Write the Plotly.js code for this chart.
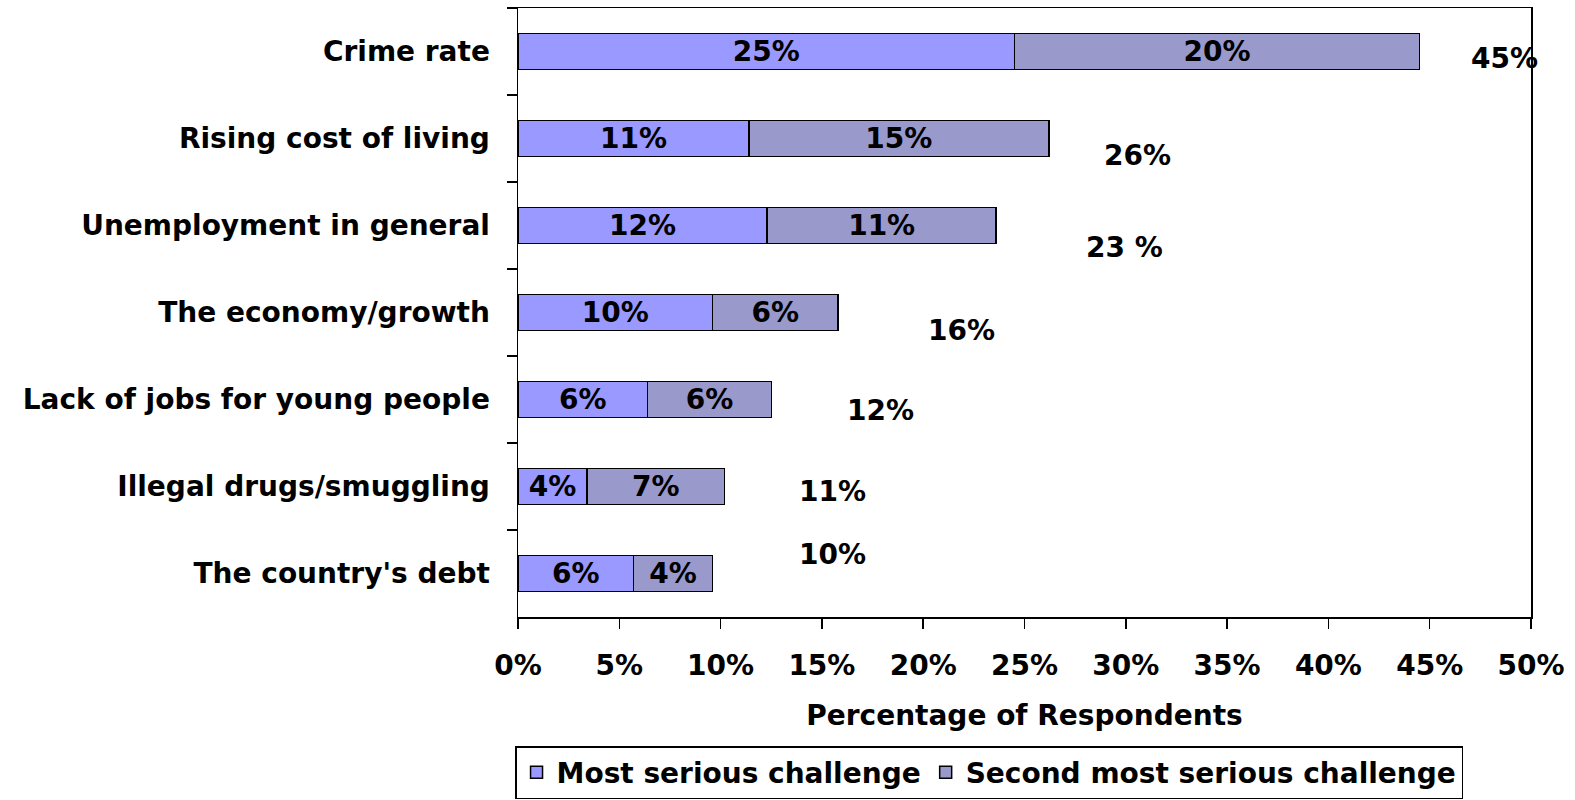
<!DOCTYPE html>
<html>
<head>
<meta charset="utf-8">
<script src="https://cdn.plot.ly/plotly-3.0.1.min.js"></script>
<style>html,body{margin:0;padding:0;background:#fff;}#chart{width:1575px;height:800px;}</style>
</head>
<body>
<div id="chart"></div>
<script>
var categories = ["Crime rate", "Rising cost of living", "Unemployment in general", "The economy/growth", "Lack of jobs for young people", "Illegal drugs/smuggling", "The country's debt"];
var mostSerious = [24.5, 11.4, 12.3, 9.6, 6.4, 3.4, 5.7];
var secondMost = [20.0, 14.8, 11.3, 6.2, 6.1, 6.8, 3.9];
var mostLabels = ["25%", "11%", "12%", "10%", "6%", "4%", "6%"];
var secondLabels = ["20%", "15%", "11%", "6%", "6%", "7%", "4%"];
var totalLabels = ["45%", "26%", "23 %", "16%", "12%", "11%", "10%"];
var xTicks = [0, 5, 10, 15, 20, 25, 30, 35, 40, 45, 50];
var xTickLabels = ["0%", "5%", "10%", "15%", "20%", "25%", "30%", "35%", "40%", "45%", "50%"];
// label placement (as in the original, manually placed totals)
var totalLabelX = [48.7, 30.6, 29.95, 21.9, 17.9, 15.5, 15.5];
var totalLabelShift = [-7, -17, -22, -18, -11, -5, 19];

var FONT = "DejaVu Sans, Verdana, sans-serif";
var fs = 28;

var traces = [
  {type: "bar", orientation: "h", name: "Most serious challenge", y: categories, x: mostSerious,
   text: mostLabels, texttemplate: "%{text}", textposition: "inside", insidetextanchor: "middle",
   textangle: 0, constraintext: "none", hoverinfo: "x+y",
   insidetextfont: {family: FONT, size: fs, color: "#000", weight: "bold"},
   marker: {color: "#9999FF", line: {color: "#000", width: 1.5}}},
  {type: "bar", orientation: "h", name: "Second most serious challenge", y: categories, x: secondMost,
   text: secondLabels, texttemplate: "%{text}", textposition: "inside", insidetextanchor: "middle",
   textangle: 0, constraintext: "none", hoverinfo: "x+y",
   insidetextfont: {family: FONT, size: fs, color: "#000", weight: "bold"},
   marker: {color: "#9999CC", line: {color: "#000", width: 1.5}}}
];

var annotations = categories.map(function (c, i) {
  return {x: totalLabelX[i], y: c, xref: "x", yref: "y", text: totalLabels[i], showarrow: false,
    yshift: totalLabelShift[i], xanchor: "center", yanchor: "middle",
    font: {family: FONT, size: fs, color: "#000", weight: "bold"}};
});

var layout = {
  width: 1575, height: 800,
  margin: {l: 518, r: 44, t: 8, b: 183, autoexpand: false},
  paper_bgcolor: "#fff", plot_bgcolor: "#fff",
  barmode: "stack", bargap: 0.585,
  font: {family: FONT, size: fs, color: "#000", weight: "bold"},
  showlegend: true,
  legend: {orientation: "h", traceorder: "normal", x: 0.465, xanchor: "center", y: -0.212, yanchor: "top",
    bordercolor: "#000", borderwidth: 1.5, bgcolor: "#fff",
    font: {family: FONT, size: fs, color: "#000", weight: "bold"},
    itemwidth: 30, tracegroupgap: 0},
  xaxis: {range: [0, 50], tickvals: xTicks, ticktext: xTickLabels, showgrid: false, zeroline: false,
    automargin: false,
    showline: true, linecolor: "#000", linewidth: 1.5, mirror: true,
    ticks: "outside", ticklen: 10, tickwidth: 1.5, tickcolor: "#000", ticklabelstandoff: 13,
    tickfont: {family: FONT, size: fs, color: "#000", weight: "bold"},
    title: {text: "Percentage of Respondents", standoff: 24,
      font: {family: FONT, size: fs, color: "#000", weight: "bold"}}},
  yaxis: {type: "category", autorange: "reversed", showgrid: false, zeroline: false,
    automargin: false,
    showline: true, linecolor: "#000", linewidth: 1.5, mirror: true,
    ticks: "outside", ticklen: 10, tickwidth: 1.5, tickcolor: "#000", tickson: "boundaries",
    ticklabelstandoff: 21,
    tickfont: {family: FONT, size: fs, color: "#000", weight: "bold"}},
  annotations: annotations
};

Plotly.newPlot("chart", traces, layout, {displayModeBar: false, staticPlot: true});
</script>
</body>
</html>
